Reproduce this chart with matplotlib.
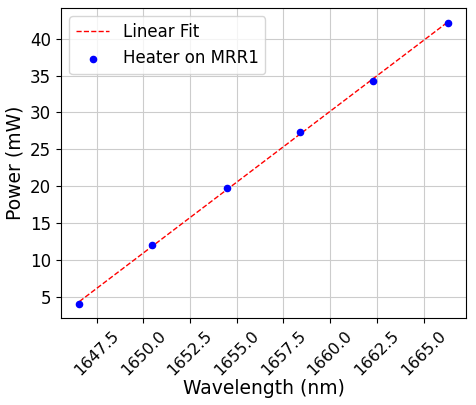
import numpy as np
import matplotlib
matplotlib.use("Agg")
import matplotlib.pyplot as plt
from matplotlib.ticker import MultipleLocator, FormatStrFormatter

# measured points
wavelength = [1646.57, 1650.47, 1654.47, 1658.40, 1662.28, 1666.29]
power = [4.1, 12.0, 19.8, 27.4, 34.3, 42.1]

# linear fit
coef = np.polyfit(wavelength, power, 1)
fit = np.polyval(coef, wavelength)

fig = plt.figure(figsize=(4.76, 4.05), dpi=100)
ax = fig.add_subplot(1, 1, 1)
ax.plot(wavelength, fit, "r--", lw=1.0, label="Linear Fit")
ax.scatter(wavelength, power, color="blue", s=20, zorder=3, label="Heater on MRR1")
ax.set_xlabel("Wavelength (nm)", fontsize=13.5, labelpad=1)
ax.set_ylabel("Power (mW)", fontsize=13.5)
ax.xaxis.set_major_locator(MultipleLocator(2.5))
ax.xaxis.set_major_formatter(FormatStrFormatter("%.1f"))
ax.tick_params(axis="y", labelsize=12)
ax.tick_params(axis="x", labelsize=11.5)
plt.xticks(rotation=45)
ax.grid(True, color="#cccccc")
ax.set_axisbelow(True)
ax.legend(fontsize=12, loc="upper left")
fig.subplots_adjust(left=0.128, right=0.979, top=0.98, bottom=0.215)
fig.savefig("out.png")
